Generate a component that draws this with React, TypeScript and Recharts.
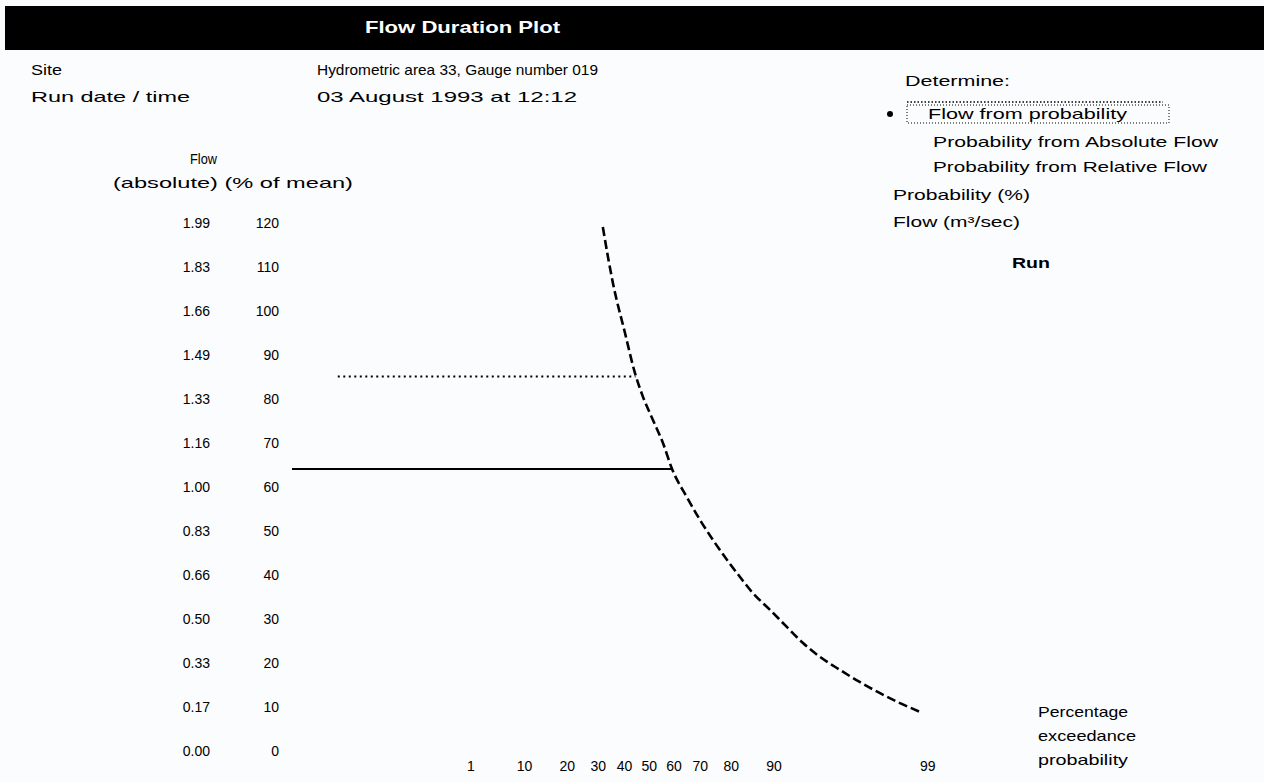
import { ComposedChart, Line, XAxis, YAxis } from "recharts";

// flow duration curve: exceedance probability (%) and flow (% of mean)
const probability = [
  17.6, 19.0, 20.4, 24.1, 27.4, 30.2, 33.9, 37.7, 41.3, 47.3, 52.7, 57.9, 63.5,
  68.3, 72.9, 78.4, 83.1, 86.9, 90.3, 93.4, 95.6, 97.2, 98.3, 99.0,
];
const flowPct = [
  115.0, 108.2, 102.3, 90.9, 81.8, 76.4, 71.1, 65.9, 60.0, 53.6, 48.4, 43.9, 39.3,
  35.5, 31.8, 28.0, 24.1, 20.5, 17.3, 14.3, 11.6, 9.1, 6.8, 4.8,
];

// result lines: flow (% of mean) and the probability where they hit the curve
const resultFlow = [60, 81];
const resultProb = [41.3, 27.6];

const pctTicks = [0, 10, 20, 30, 40, 50, 60, 70, 80, 90, 100, 110, 120];
const absTicks = ["0.00", "0.17", "0.33", "0.50", "0.66", "0.83", "1.00", "1.16", "1.33", "1.49", "1.66", "1.83", "1.99"];
const probTicks = [1, 10, 20, 30, 40, 50, 60, 70, 80, 90, 99];

const FONT = '"Liberation Sans", Arial, sans-serif';
const X_MIN = -4.122;
const X_MAX = 3.147;

// inverse normal cdf (Acklam) for the probability axis
function probit(pct: number) {
  const p = pct / 100;
  const a = [-39.69683028665376, 220.9460984245205, -275.9285104469687, 138.357751867269, -30.66479806614716, 2.506628277459239];
  const b = [-54.47609879822406, 161.5858368580409, -155.6989798598866, 66.80131188771972, -13.28068155288572];
  const c = [-0.007784894002430293, -0.3223964580411365, -2.400758277161838, -2.549732539343734, 4.374664141464968, 2.938163982698783];
  const d = [0.007784695709041462, 0.3224671290700398, 2.445134137142996, 3.754408661907416];
  const tail = (q: number) =>
    (((((c[0] * q + c[1]) * q + c[2]) * q + c[3]) * q + c[4]) * q + c[5]) /
    ((((d[0] * q + d[1]) * q + d[2]) * q + d[3]) * q + 1);
  if (p < 0.02425) return tail(Math.sqrt(-2 * Math.log(p)));
  if (p > 1 - 0.02425) return -tail(Math.sqrt(-2 * Math.log(1 - p)));
  const q = p - 0.5;
  const r = q * q;
  return (
    ((((((a[0] * r + a[1]) * r + a[2]) * r + a[3]) * r + a[4]) * r + a[5]) * q) /
    (((((b[0] * r + b[1]) * r + b[2]) * r + b[3]) * r + b[4]) * r + 1)
  );
}

const curve = probability.map((p, i) => ({ z: probit(p), flow: flowPct[i] }));
const solidLine = [
  { z: X_MIN, flow: resultFlow[0] },
  { z: probit(resultProb[0]), flow: resultFlow[0] },
];
const dottedLine = [
  { z: X_MIN + 0.47, flow: resultFlow[1] },
  { z: probit(resultProb[1]), flow: resultFlow[1] },
];

const YTick = ({ y, index }: any) => (
  <g fontFamily={FONT} fontSize={14} fill="#000">
    <text x={210} y={y + 23} textAnchor="end">{absTicks[index]}</text>
    <text x={279} y={y + 23} textAnchor="end">{pctTicks[index]}</text>
  </g>
);

const XTick = ({ x, index }: any) => {
  const label = probTicks[index];
  const inner = label !== 1 && label !== 99;
  return (
    <text x={x + (inner ? -52 : 0)} y={771} fontFamily={FONT} fontSize={14} fill="#000">
      {label}
    </text>
  );
};

const T = ({ x, y, w, size = 15, bold = false, fill = "#000", children }: any) => (
  <text
    x={x}
    y={y}
    textLength={w}
    lengthAdjust="spacingAndGlyphs"
    fontFamily={FONT}
    fontSize={size}
    fontWeight={bold ? 700 : 400}
    fill={fill}
  >
    {children}
  </text>
);

export default function App() {
  return (
    <div
      style={{
        position: "absolute",
        left: 0,
        top: 0,
        width: 1264,
        height: 782,
        background: "#fbfcfe",
        overflow: "hidden",
      }}
    >
      <svg width={1264} height={782} style={{ position: "absolute", left: 0, top: 0 }}>
        <rect x={5} y={6} width={1259} height={44} fill="#000" />
        <T x={365} y={33} w={195} size={17} bold fill="#fff">Flow Duration Plot</T>

        <T x={31} y={75} w={31}>Site</T>
        <T x={31} y={102} w={159}>Run date / time</T>
        <T x={317} y={75} w={281}>Hydrometric area 33, Gauge number 019</T>
        <T x={317} y={102} w={260}>03 August 1993 at 12:12</T>

        <T x={190} y={164} w={27}>Flow</T>
        <T x={113} y={188} w={240}>(absolute)  (% of mean)</T>

        <T x={905} y={86} w={105}>Determine:</T>
        <line x1={907} y1={102} x2={1163} y2={102} stroke="#000" strokeWidth={1.5} strokeDasharray="1.5 2" />
        <circle cx={890} cy={114} r={3} fill="#000" />
        <rect x={907} y={105} width={262} height={18} fill="none" stroke="#000" strokeWidth={1} strokeDasharray="1 2" />
        <T x={928} y={119} w={199}>Flow from probability</T>
        <T x={933} y={147} w={285}>Probability from Absolute Flow</T>
        <T x={933} y={172} w={274}>Probability from Relative Flow</T>
        <T x={893} y={200} w={137}>Probability (%)</T>
        <T x={893} y={227} w={127}>Flow (m³/sec)</T>
        <T x={1012} y={268} w={38} bold>Run</T>

        <T x={1038} y={717} w={90}>Percentage</T>
        <T x={1038} y={741} w={98}>exceedance</T>
        <T x={1038} y={765} w={90}>probability</T>
      </svg>

      <div style={{ position: "absolute", left: 0, top: 0 }}>
        <ComposedChart width={1264} height={782} margin={{ top: 205, right: 264, bottom: 0, left: 0 }}>
          <XAxis
            type="number"
            dataKey="z"
            domain={[X_MIN, X_MAX]}
            ticks={probTicks.map(probit)}
            interval={0}
            height={49}
            axisLine={false}
            tickLine={false}
            tick={<XTick />}
            allowDataOverflow
          />
          <YAxis
            type="number"
            dataKey="flow"
            domain={[0, 120]}
            ticks={pctTicks}
            interval={0}
            width={292}
            axisLine={false}
            tickLine={false}
            tick={<YTick />}
            allowDataOverflow
          />
          <Line
            data={solidLine}
            dataKey="flow"
            stroke="#000"
            strokeWidth={2}
            dot={false}
            isAnimationActive={false}
          />
          <Line
            data={dottedLine}
            dataKey="flow"
            stroke="#000"
            strokeWidth={2}
            strokeDasharray="2 3.5"
            dot={false}
            isAnimationActive={false}
          />
          <Line
            data={curve}
            dataKey="flow"
            type="monotone"
            stroke="#000"
            strokeWidth={2.6}
            strokeDasharray="9 4"
            dot={false}
            isAnimationActive={false}
          />
        </ComposedChart>
      </div>
    </div>
  );
}
